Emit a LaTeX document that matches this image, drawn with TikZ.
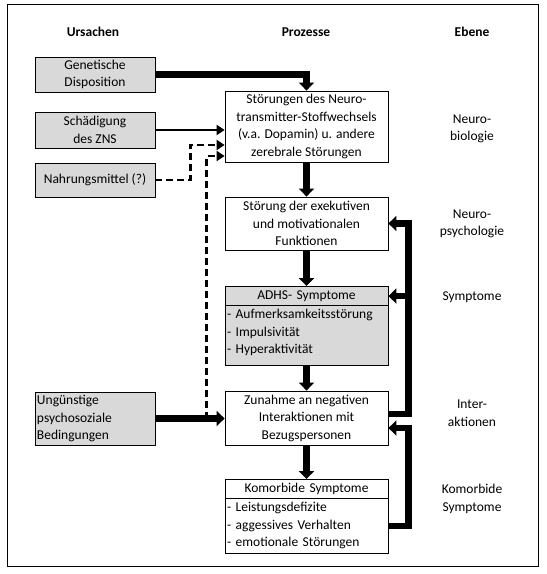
\documentclass[tikz,border=0pt]{standalone}
\usepackage{fontspec}
\setmainfont{Carlito}
\usetikzlibrary{arrows.meta,calc,shapes.multipart}
\definecolor{boxgray}{RGB}{217,217,217}
\tikzset{
  cause/.style={draw,fill=boxgray,line width=0.8pt,minimum width=120pt,align=center,inner sep=1pt},
  proc/.style={draw,fill=white,line width=0.8pt,minimum width=163pt,align=center,inner sep=1pt},
  listbox/.style={draw,line width=0.8pt,rectangle split,rectangle split parts=2,text width=159pt,align=left,inner xsep=2pt,inner ysep=0.5pt},
  head/.style={font=\fontsize{13.5}{17.5}\selectfont\bfseries},
  bigarrow/.style={line width=6.5pt,line join=miter,-{Triangle[length=8pt,width=15pt]}},
  smallarrow/.style={line width=2.5pt,line join=miter,-{Triangle[length=8pt,width=10pt]}},
  dasharrow/.style={smallarrow,dash pattern=on 7pt off 4pt},
}
\begin{document}
\begin{tikzpicture}[x=1pt,y=-1pt,font=\fontsize{13.5}{17.5}\selectfont]
\useasboundingbox (0,0) rectangle (547,574);
    %frame
    \draw[line width=1pt] (7,4) rectangle (538,566);
    %headings
    \node[head] (hurs) at (93,32) {Ursachen};
    \node[head] (hpro) at (306,32) {Prozesse};
    \node[head] (heb) at (472,32) {Ebene};
    %causes
    \node[cause,minimum height=35pt] (gen) at (95,74.5) {Genetische\\Disposition};
    \node[cause,minimum height=36pt] (sch) at (95,130) {Schädigung\\des ZNS};
    \node[cause,minimum height=34pt] (nahr) at (95,180) {Nahrungsmittel (?)};
    \node[cause,minimum height=53pt,text width=116pt,align=left] (ung) at (95,418.5) {Ungünstige\\psychosoziale\\Bedingungen};
    %processes
    \node[proc,minimum height=71pt] (stoer) at (306.5,126.5) {Störungen des Neuro-\\transmitter-Stoffwechsels\\(v.a. Dopamin) u. andere\\zerebrale Störungen};
    \node[proc,minimum height=53pt] (exek) at (306.5,223.5) {Störung der exekutiven\\und motivationalen\\Funktionen};
    \node[listbox,fill=boxgray,anchor=north] (adhs) at (306.5,286) {\centering\strut ADHS- Symptome\par
      \nodepart{two}\strut- Aufmerksamkeitsstörung\\\strut- Impulsivität\\\strut- Hyperaktivität\rule[-11pt]{0pt}{11pt}};
    \node[proc,minimum height=54pt] (zun) at (306.5,418) {Zunahme an negativen\\Interaktionen mit\\Bezugspersonen};
    \node[listbox,fill=white,anchor=north] (kom) at (306.5,479) {\centering\strut Komorbide Symptome\par
      \nodepart{two}\strut- Leistungsdefizite\\\strut- aggessives Verhalten\\\strut- emotionale Störungen};
    %levels
    \node[align=center] (lnb) at (472,129) {Neuro-\\biologie};
    \node[align=center] (lnp) at (472,224) {Neuro-\\psychologie};
    \node[align=center] (lsy) at (472,297) {Symptome};
    \node[align=center] (lia) at (472,413) {Inter-\\aktionen};
    \node[align=center] (lks) at (472,499) {Komorbide\\Symptome};
    %joints
    \coordinate (nin) at ($(stoer.west)+(0,18.5)$);
    \coordinate (uin) at ($(stoer.west)+(0,29.5)$);
    \coordinate (uup) at ($(ung.east)!0.74!(ung.east -| zun.west)$);
    \coordinate (zout) at ($(zun.east)+(0,-4)$);
    \coordinate (zin) at ($(zun.east)+(0,10)$);
    %arrows from causes
    \draw[bigarrow] (gen.east) -| (stoer.north);
    \draw[smallarrow] (sch.east) -- (sch.east -| stoer.west);
    \draw[dasharrow] (nahr.east) -- ++(35,0) |- (nin);
    \draw[dasharrow] (uup) |- (uin);
    \draw[bigarrow] (ung.east) -- (ung.east -| zun.west);
    %main chain
    \draw[bigarrow] (stoer.south) -- (exek.north);
    \draw[bigarrow] (exek.south) -- (adhs.north);
    \draw[bigarrow] (adhs.south) -- (zun.north);
    \draw[bigarrow] (zun.south) -- (kom.north);
    %feedback
    \draw[bigarrow] (zout) -- ++(20,0) |- (exek.east);
    \draw[bigarrow] (zout -| 408,0) |- (adhs.one east);
    \draw[bigarrow] (kom.two east) -- ++(20,0) |- (zin);
\end{tikzpicture}
\end{document}
